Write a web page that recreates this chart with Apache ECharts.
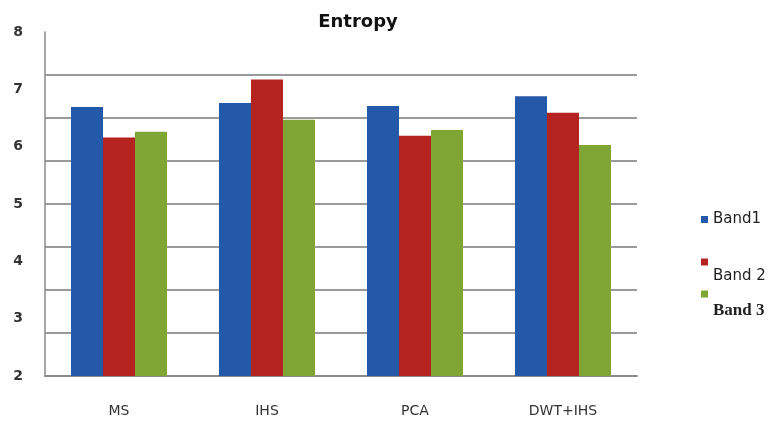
<!DOCTYPE html>
<html>
<head>
<meta charset="utf-8">
<script src="https://cdn.jsdelivr.net/npm/echarts@6/dist/echarts.min.js"></script>
<style>
  html, body { margin: 0; padding: 0; background: #fff; }
  #chart { width: 781px; height: 423px; }
</style>
</head>
<body>
<div id="chart"></div>
<script>
// Entropy per fusion method, one bar per band
const categories = ['MS', 'IHS', 'PCA', 'DWT+IHS'];
const band1 = [6.69, 6.76, 6.71, 6.88];
const band2 = [6.16, 7.17, 6.19, 6.59];
const band3 = [6.26, 6.47, 6.29, 6.03];
const yTicks = [2, 3, 4, 5, 6, 7, 8];

const colors = ['#2459A9', '#B4231F', '#7FA535'];

const chart = echarts.init(document.getElementById('chart'));

// one legend block per band so each entry can sit at its own height;
// a leading blank line drops the label below its swatch
function legendBlock(name, top, drop, font, size, weight) {
  return {
    data: [name],
    orient: 'vertical',
    left: 696,
    top: top,
    itemWidth: 7,
    itemHeight: 7,
    icon: 'rect',
    formatter: drop ? '\n' + name : name,
    textStyle: {
      fontFamily: font,
      fontSize: size,
      fontWeight: weight,
      color: '#222',
      lineHeight: drop ? drop * 2 : undefined
    }
  };
}

chart.setOption({
  animation: false,
  color: colors,
  title: {
    text: 'Entropy',
    left: 353,
    top: 8,
    textAlign: 'center',
    textStyle: { fontFamily: 'DejaVu Sans', fontWeight: 'bold', fontSize: 18, color: '#111' }
  },
  legend: [
    legendBlock('Band1', 207, 0, 'DejaVu Sans', 15, 'normal'),
    legendBlock('Band 2', 229, 14, 'DejaVu Sans', 15, 'normal'),
    legendBlock('Band 3', 255, 17, 'Liberation Serif', 17, 'bold')
  ],
  grid: { left: 45, right: 144, top: 32, bottom: 47 },
  xAxis: {
    type: 'category',
    data: categories,
    axisLine: { lineStyle: { color: '#8a8a8a', width: 2 } },
    axisTick: { show: false },
    axisLabel: { margin: 28, fontFamily: 'DejaVu Sans', fontSize: 14, color: '#333' }
  },
  yAxis: [
    {
      type: 'value',
      min: yTicks[0],
      max: yTicks[yTicks.length - 1],
      interval: 1,
      axisLine: { show: true, lineStyle: { color: '#8a8a8a', width: 1.5 } },
      axisTick: { show: false },
      splitLine: { show: false },
      axisLabel: {
        margin: 22,
        fontFamily: 'DejaVu Sans',
        fontWeight: 'bold',
        fontSize: 14,
        color: '#333'
      }
    },
    {
      // horizontal grid rules
      type: 'value',
      position: 'left',
      min: 0,
      max: 8,
      interval: 1,
      axisLine: { show: false },
      axisTick: { show: false },
      axisLabel: { show: false },
      splitLine: {
        show: true,
        showMaxLine: false,
        showMinLine: false,
        lineStyle: { color: '#9a9a9a', width: 2 }
      }
    }
  ],
  series: [
    { name: 'Band1', type: 'bar', data: band1, barWidth: 32, barGap: '0%', yAxisIndex: 0 },
    { name: 'Band 2', type: 'bar', data: band2, barWidth: 32, barGap: '0%', yAxisIndex: 0 },
    { name: 'Band 3', type: 'bar', data: band3, barWidth: 32, barGap: '0%', yAxisIndex: 0 }
  ]
});
</script>
</body>
</html>
